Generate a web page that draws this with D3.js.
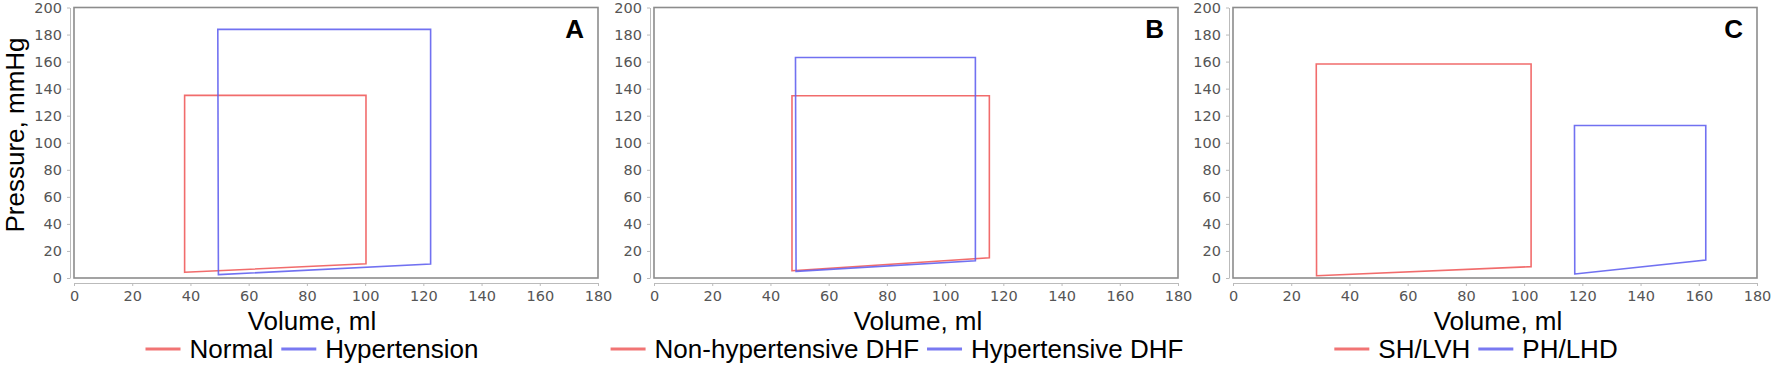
<!DOCTYPE html>
<html>
<head>
<meta charset="utf-8">
<script src="https://cdn.jsdelivr.net/npm/d3@7"></script>
<style>
  body { margin: 0; background: #fff; }
  .tick text { font-family: "DejaVu Sans", sans-serif; font-size: 14.5px; fill: #555; }
  .axis path, .axis line { stroke: #bbb; }
  .title { font-family: "Liberation Sans", Arial, sans-serif; font-size: 26px; fill: #000; }
  .legend text { font-family: "Liberation Sans", Arial, sans-serif; font-size: 26px; fill: #000; }
  .panel-label { font-family: "Liberation Sans", Arial, sans-serif; font-size: 26px; font-weight: bold; }
</style>
</head>
<body>
<svg></svg>
<script>
const width = 1772;
const height = 368;

// panel letters and series names
const panelLabels = ["A", "B", "C"];
const redNames = ["Normal", "Non-hypertensive DHF", "SH/LVH"];
const blueNames = ["Hypertension", "Hypertensive DHF", "PH/LHD"];

// loop corners: bottom-left, bottom-right, top-right, top-left
const normalV = [38, 100.3, 100.3, 38];
const normalP = [4.2, 10.5, 135, 135];
const hypertensionV = [49.6, 122.5, 122.5, 49.4];
const hypertensionP = [2.5, 10.3, 183.8, 183.8];

const nonHtDhfV = [47.4, 115.2, 115.2, 47.4];
const nonHtDhfP = [5.4, 15, 134.8, 134.8];
const htDhfV = [48.8, 110.4, 110.4, 48.6];
const htDhfP = [4.9, 12.8, 163, 163];

const shLvhV = [28.7, 102.4, 102.4, 28.6];
const shLvhP = [1.7, 8.4, 158.2, 158.2];
const phLhdV = [117.4, 162.4, 162.4, 117.3];
const phLhdP = [3, 13.3, 112.7, 112.7];

const xTicks = d3.range(0, 181, 20);
const yTicks = d3.range(0, 201, 20);

const loops = [
    [[normalV, normalP], [hypertensionV, hypertensionP]],
    [[nonHtDhfV, nonHtDhfP], [htDhfV, htDhfP]],
    [[shLvhV, shLvhP], [phLhdV, phLhdP]]
];

const red = "#ef5c5c";
const blue = "#6262ef";

const panelLeft = [74, 654, 1233];
const plotW = 524;
const plotTop = 7.5;
const plotBottom = 278;
const titleCenter = [312, 918, 1498];
const legendCenter = [312, 897, 1476];

const svg = d3.select("svg")
    .attr("width", width)
    .attr("height", height);

const y = d3.scaleLinear().domain([0, 200]).range([plotBottom, plotTop]);

panelLabels.forEach((label, i) => {
    const left = panelLeft[i];
    const x = d3.scaleLinear().domain([0, 180]).range([left, left + plotW]);
    const g = svg.append("g");

    // offset axes
    g.append("g")
        .attr("class", "axis")
        .attr("transform", `translate(${left - 4},0)`)
        .call(d3.axisLeft(y).tickValues(yTicks).tickSize(3).tickPadding(5).tickSizeOuter(0));

    g.append("g")
        .attr("class", "axis")
        .attr("transform", `translate(0,${plotBottom + 5})`)
        .call(d3.axisBottom(x).tickValues(xTicks).tickSize(3).tickPadding(5).tickSizeOuter(0));

    // plot frame
    g.append("rect")
        .attr("x", left)
        .attr("y", plotTop)
        .attr("width", plotW)
        .attr("height", plotBottom - plotTop)
        .attr("fill", "none")
        .attr("stroke", "#8c8c8c")
        .attr("stroke-width", 1.6);

    const line = d3.line()
        .x(d => x(d[0]))
        .y(d => y(d[1]))
        .curve(d3.curveLinearClosed);

    loops[i].forEach((s, j) => {
        const pts = s[0].map((v, k) => [v, s[1][k]]);
        g.append("path")
            .attr("d", line(pts))
            .attr("fill", "none")
            .attr("stroke", j === 0 ? red : blue)
            .attr("stroke-width", 1.6)
            .attr("stroke-opacity", 0.9);
    });

    g.append("text")
        .attr("class", "panel-label")
        .attr("x", left + plotW - 14)
        .attr("y", 38)
        .attr("text-anchor", "end")
        .text(label);

    g.append("text")
        .attr("class", "title")
        .attr("x", titleCenter[i])
        .attr("y", 330)
        .attr("text-anchor", "middle")
        .text("Volume, ml");

    // legend, centred as a whole
    const legend = g.append("g").attr("class", "legend");
    const items = [[redNames[i], red], [blueNames[i], blue]];
    let cx = 0;
    items.forEach(it => {
        const item = legend.append("g");
        item.append("line")
            .attr("x1", 0).attr("x2", 35)
            .attr("y1", 0).attr("y2", 0)
            .attr("stroke", it[1])
            .attr("stroke-width", 3)
            .attr("stroke-opacity", 0.85);
        const t = item.append("text")
            .attr("x", 44)
            .attr("y", 9)
            .text(it[0]);
        const w = 44 + t.node().getComputedTextLength();
        item.attr("transform", `translate(${cx},349)`);
        cx += w + 8;
    });
    const total = cx - 8;
    legend.attr("transform", `translate(${legendCenter[i] - total / 2},0)`);
});

svg.append("text")
    .attr("class", "title")
    .attr("transform", "translate(24,135) rotate(-90)")
    .attr("text-anchor", "middle")
    .text("Pressure, mmHg");
</script>
</body>
</html>
